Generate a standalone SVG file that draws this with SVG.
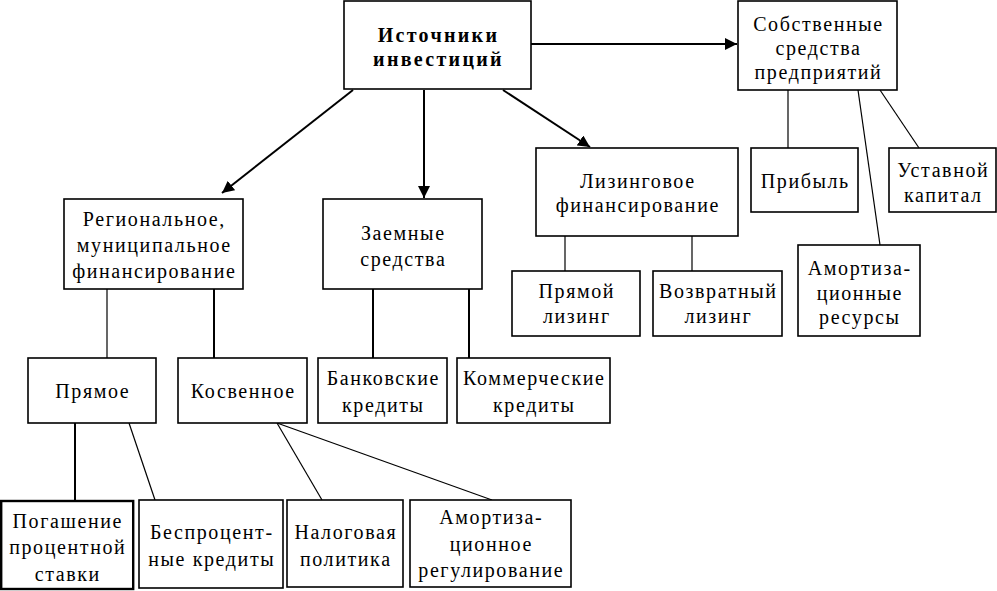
<svg xmlns="http://www.w3.org/2000/svg" width="997" height="591" viewBox="0 0 997 591">
<defs>
<style>
.box{fill:#fff;stroke:#000;stroke-width:1.6}
.thick{stroke-width:2.4}
.t{font-size:20px;letter-spacing:1.6px;text-anchor:middle;fill:#000}
.b{font-weight:bold;letter-spacing:2.3px}
.c{stroke:#000;stroke-width:1.2;fill:none}
.ct{stroke:#000;stroke-width:2;fill:none}
.a{stroke:#000;stroke-width:2;fill:none}
</style>
<marker id="arr" viewBox="0 0 12 12" refX="12" refY="6" markerWidth="12" markerHeight="12" markerUnits="userSpaceOnUse" orient="auto">
<path d="M0,0 L12,6 L0,12 z" fill="#000"/>
</marker>
</defs>
<rect width="997" height="591" fill="#fff"/>
<g id="connectors">
<path class="a" d="M353,90 L222,193" marker-end="url(#arr)"/>
<path class="a" d="M424,90 L424,198" marker-end="url(#arr)"/>
<path class="a" d="M503,90 L590,147" marker-end="url(#arr)"/>
<path class="a" d="M531,44 L737,44" marker-end="url(#arr)"/>
<path class="c" d="M788,90 L788,148"/>
<path class="c" d="M858,90 L880,245"/>
<path class="c" d="M880,90 L919,148"/>
<path class="c" d="M565,236 L565,271"/>
<path class="c" d="M692,236 L692,271"/>
<path class="c" d="M107,289 L107,358"/>
<path class="ct" d="M214,289 L214,358"/>
<path class="ct" d="M373,289 L373,358"/>
<path class="ct" d="M469,289 L469,358"/>
<path class="ct" d="M75,423 L75,501"/>
<path class="c" d="M129,423 L155,500"/>
<path class="c" d="M277,423 L322,500"/>
<path class="c" d="M277,423 L492,500"/>
</g>
<g id="nodes" font-family="'Liberation Serif', 'Times New Roman', serif">
<g id="n-main">
<rect class="box" x="344" y="1" width="187" height="88"/>
<text class="t b" x="438.5" y="42">Источники</text>
<text class="t b" x="438.5" y="66">инвестиций</text>
</g>
<g id="n-own">
<rect class="box" x="738" y="1" width="159" height="89"/>
<text class="t" x="818.5" y="31">Собственные</text>
<text class="t" x="818.5" y="55">средства</text>
<text class="t" x="818.5" y="79">предприятий</text>
</g>
<g id="n-leasing">
<rect class="box" x="536" y="148" width="202" height="88"/>
<text class="t" x="637.8" y="188">Лизинговое</text>
<text class="t" x="637.8" y="212">финансирование</text>
</g>
<g id="n-profit">
<rect class="box" x="751" y="148" width="107" height="64"/>
<text class="t" x="805.3" y="188">Прибыль</text>
</g>
<g id="n-capital">
<rect class="box" x="889" y="148" width="107" height="64"/>
<text class="t" x="943.3" y="177">Уставной</text>
<text class="t" x="943.3" y="202">капитал</text>
</g>
<g id="n-amort-res">
<rect class="box" x="798" y="245" width="122" height="91"/>
<text class="t" x="859.8" y="275">Амортиза-</text>
<text class="t" x="859.8" y="300">ционные</text>
<text class="t" x="859.8" y="324">ресурсы</text>
</g>
<g id="n-direct-leasing">
<rect class="box" x="512" y="271" width="128" height="65"/>
<text class="t" x="576.8" y="298">Прямой</text>
<text class="t" x="576.8" y="323">лизинг</text>
</g>
<g id="n-return-leasing">
<rect class="box" x="653" y="271" width="129" height="65"/>
<text class="t" x="718.3" y="298">Возвратный</text>
<text class="t" x="718.3" y="323">лизинг</text>
</g>
<g id="n-regional">
<rect class="box" x="64" y="199" width="179" height="90"/>
<text class="t" x="154.3" y="226">Региональное,</text>
<text class="t" x="154.3" y="252">муниципальное</text>
<text class="t" x="154.3" y="278">финансирование</text>
</g>
<g id="n-borrowed">
<rect class="box" x="323" y="199" width="159" height="90"/>
<text class="t" x="403.3" y="240">Заемные</text>
<text class="t" x="403.3" y="266">средства</text>
</g>
<g id="n-direct">
<rect class="box" x="28" y="358" width="128" height="65"/>
<text class="t" x="92.8" y="398">Прямое</text>
</g>
<g id="n-indirect">
<rect class="box" x="178" y="358" width="129" height="65"/>
<text class="t" x="243.3" y="398">Косвенное</text>
</g>
<g id="n-bank">
<rect class="box" x="318" y="358" width="129" height="65"/>
<text class="t" x="383.3" y="385">Банковские</text>
<text class="t" x="383.3" y="412">кредиты</text>
</g>
<g id="n-commercial">
<rect class="box" x="457" y="358" width="153" height="65"/>
<text class="t" x="534.3" y="385">Коммерческие</text>
<text class="t" x="534.3" y="412">кредиты</text>
</g>
<g id="n-repay">
<rect class="box thick" x="1.2" y="501" width="132" height="88"/>
<text class="t" x="67.8" y="528">Погашение</text>
<text class="t" x="67.8" y="554">процентной</text>
<text class="t" x="67.8" y="581">ставки</text>
</g>
<g id="n-interestfree">
<rect class="box" x="139" y="500" width="144" height="88"/>
<text class="t" x="211.8" y="539">Беспроцент-</text>
<text class="t" x="211.8" y="566">ные кредиты</text>
</g>
<g id="n-tax">
<rect class="box" x="287" y="500" width="116" height="87"/>
<text class="t" x="345.8" y="539">Налоговая</text>
<text class="t" x="345.8" y="566">политика</text>
</g>
<g id="n-amort-reg">
<rect class="box" x="410" y="500" width="161" height="87"/>
<text class="t" x="491.3" y="524">Амортиза-</text>
<text class="t" x="491.3" y="551">ционное</text>
<text class="t" x="491.3" y="577">регулирование</text>
</g>
</g>
</svg>
